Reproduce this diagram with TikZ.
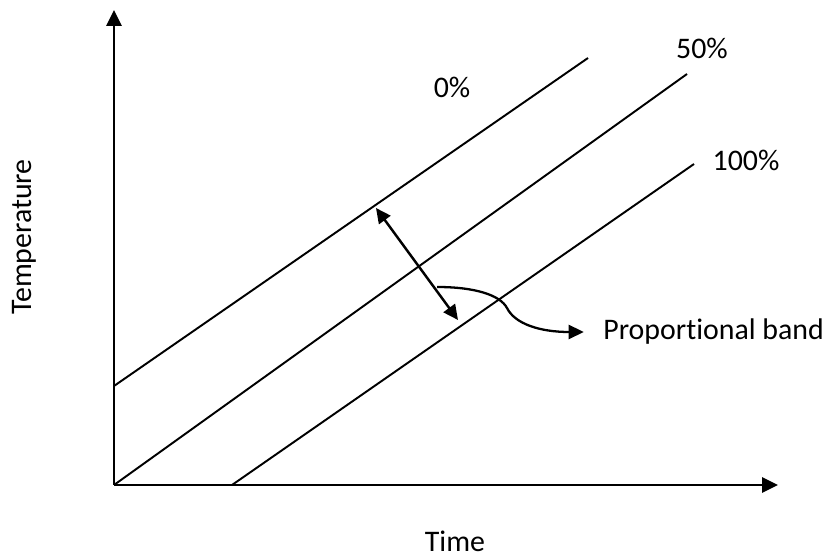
\documentclass[tikz,border=0pt]{standalone}
\usepackage{fontspec}
\setmainfont{Carlito}[Ligatures=NoCommon]
\usetikzlibrary{arrows.meta, positioning}

\begin{document}
\begin{tikzpicture}[x=0.02cm, y=-0.02cm,
    axis/.style={line width=1.5pt, -{Triangle[length=9pt,width=8.5pt]}},
    band/.style={line width=1.1pt},
    lbl/.style={font=\fontsize{17}{20}\selectfont, inner sep=0pt}]
    \useasboundingbox (0,0) rectangle (822,560);

    % Axes
    \coordinate (O) at (114,485);
    \coordinate (ytip) at (114,10);
    \coordinate (xtip) at (778,485);
    \draw[axis] (O) -- (ytip);
    \draw[axis] (O) -- (xtip);

    % Band lines: 0%, 50%, 100%
    \coordinate (zeroA) at (114,386);
    \coordinate (zeroB) at (588,58);
    \coordinate (halfB) at (687,74);
    \coordinate (fullA) at (232,485);
    \coordinate (fullB) at (694,164);
    \draw[band] (zeroA) -- (zeroB);
    \draw[band] (O) -- (halfB);
    \draw[band] (fullA) -- (fullB);

    % Labels
    \node[lbl] (zero) at (452,87) {0\%};
    \node[lbl] (half) at (702,48) {50\%};
    \node[lbl] (full) at (746,160) {100\%};
    \node[lbl, rotate=90] (temp) at (24,237) {Temperature};
    \node[lbl] (time) at (455,541) {Time};

    % Proportional band
    \coordinate (bandTop) at (376,208);
    \coordinate (bandBot) at (458,320);
    \draw[line width=1.4pt, {Triangle[length=8.5pt,width=8pt]}-{Triangle[length=8.5pt,width=8pt]}]
        (bandTop) -- (bandBot);
    \node[lbl, anchor=west] (pband) at (603,332) {Proportional band};
    \coordinate (curl) at (437,287);
    \draw[line width=1.3pt, -{Triangle[length=8.5pt,width=8pt]}]
        (curl) .. controls (475,287) and (500,295) .. (507,308)
        .. controls (515,324) and (540,332) .. ([xshift=-11pt]pband.west);
\end{tikzpicture}
\end{document}
